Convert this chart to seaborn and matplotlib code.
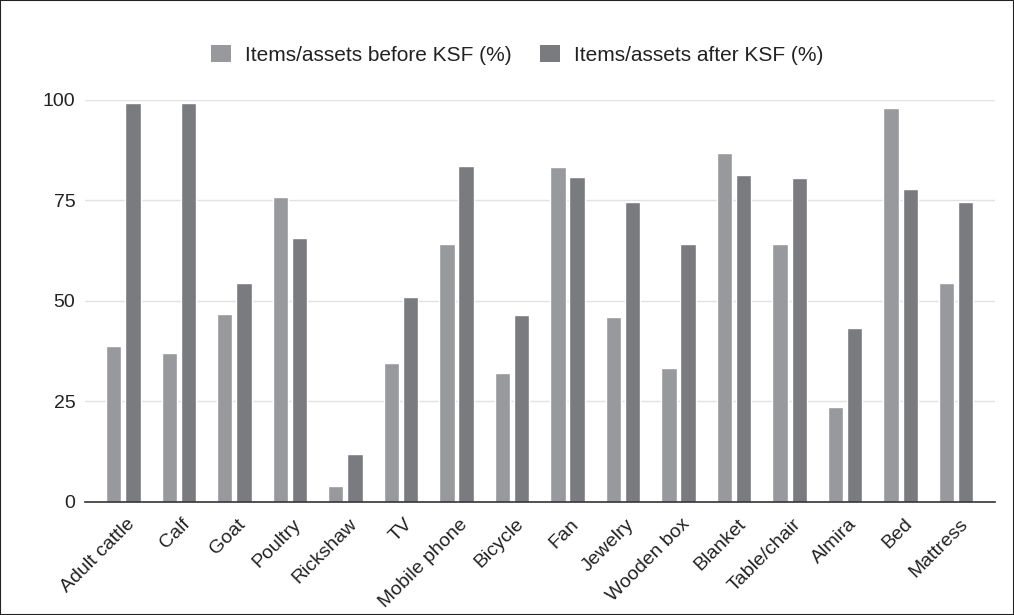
import matplotlib
matplotlib.use("Agg")
import matplotlib.pyplot as plt
from matplotlib.patches import Rectangle, Patch
from matplotlib.transforms import ScaledTranslation
import seaborn as sns
import pandas as pd

categories = ["Adult cattle", "Calf", "Goat", "Poultry", "Rickshaw", "TV",
              "Mobile phone", "Bicycle", "Fan", "Jewelry", "Wooden box",
              "Blanket", "Table/chair", "Almira", "Bed", "Mattress"]
before_ksf = [38.7, 37.0, 46.6, 75.8, 3.9, 34.5, 64.0, 32.0, 83.3, 45.9,
              33.2, 86.7, 64.0, 23.5, 98.0, 54.3]
after_ksf = [99.3, 99.3, 54.4, 65.7, 11.8, 51.0, 83.4, 46.4, 80.8, 74.6,
             64.0, 81.2, 80.4, 43.1, 77.9, 74.6]
series_names = ["Items/assets before KSF (%)", "Items/assets after KSF (%)"]
y_ticks = [0, 25, 50, 75, 100]

colors = ["#98999d", "#7a7b7f"]
text_color = "#222222"

df = pd.DataFrame({
    "item": categories * 2,
    "value": before_ksf + after_ksf,
    "series": [series_names[0]] * len(categories) + [series_names[1]] * len(categories),
})

sns.set_theme(style="white")
plt.rcParams["font.family"] = ["Liberation Sans", "DejaVu Sans"]

fig = plt.figure(figsize=(10.14, 6.15), dpi=100)
ax = fig.add_axes([0.0838, 0.1842, 0.8975, 0.6537])

sns.barplot(data=df, x="item", y="value", hue="series", order=categories,
            hue_order=series_names, palette=colors, width=0.69, gap=0.2,
            saturation=1, errorbar=None, ax=ax, legend=False)

ax.set_xlim(-0.69, 15.70)
ax.set_ylim(0, 100)
ax.set_yticks(y_ticks)
ax.set_yticklabels([str(t) for t in y_ticks], fontsize=14, color=text_color)
ax.yaxis.grid(True, color="#e2e2e2", linewidth=1)
ax.set_axisbelow(True)
ax.tick_params(axis="y", length=0, pad=7)
ax.tick_params(axis="x", length=0, pad=10)
ax.set_xlabel("")
ax.set_ylabel("")
for side in ["top", "right", "left"]:
    ax.spines[side].set_visible(False)
ax.spines["bottom"].set_color("#333333")
ax.spines["bottom"].set_linewidth(1.2)

shift = ScaledTranslation(3 / 100, 0, fig.dpi_scale_trans)
for lbl in ax.get_xticklabels():
    lbl.set_rotation(45)
    lbl.set_ha("right")
    lbl.set_rotation_mode("anchor")
    lbl.set_fontsize(14)
    lbl.set_color(text_color)
    lbl.set_transform(lbl.get_transform() + shift)

handles = [Patch(facecolor=c, edgecolor="none") for c in colors]
fig.legend(handles, series_names, loc="center", bbox_to_anchor=(0.51, 0.911),
           ncol=2, frameon=False, fontsize=15, handlelength=0.96,
           handleheight=0.91, handletextpad=0.67, columnspacing=1.33,
           labelcolor=text_color)

fig.patches.append(Rectangle((0, 0), 1, 1, transform=fig.transFigure,
                             fill=False, edgecolor="#222222", linewidth=1.5))

fig.savefig("out.png", dpi=100)
